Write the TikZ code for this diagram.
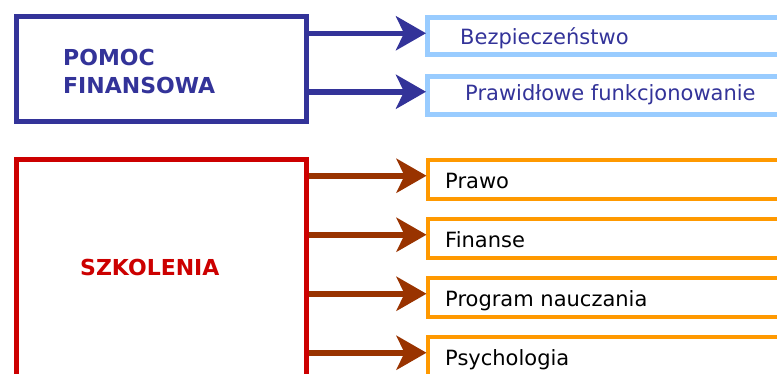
\documentclass[tikz,border=0pt]{standalone}
\usepackage{fontspec}
\setmainfont{DejaVu Sans}
\usetikzlibrary{arrows.meta,calc}
\definecolor{dblue}{HTML}{333399}
\definecolor{lblue}{HTML}{99CCFF}
\definecolor{dred}{HTML}{CC0000}
\definecolor{brown}{HTML}{993300}
\definecolor{orng}{HTML}{FF9900}
\tikzset{
  mainbox/.style={draw, line width=4.5pt, inner sep=0pt, anchor=north west},
  subbox/.style={draw, line width=4.5pt, inner sep=0pt, anchor=north west, minimum width=420pt},
  conn/.style={line width=5.5pt, -{Stealth[length=30pt,width=34pt,inset=8pt]}, shorten >=-1pt},
  lbl/.style={anchor=base west, inner sep=0pt, font=\fontsize{21}{25}\selectfont},
  title/.style={anchor=base west, inner sep=0pt, font=\fontsize{22}{28}\selectfont\bfseries, align=left},
}
\begin{document}
\begin{tikzpicture}[x=1pt,y=-1pt]
\useasboundingbox (0,0) rectangle (777,373);
\clip (0,0) rectangle (777,373);
% top group
\node[mainbox, draw=dblue, minimum width=290pt, minimum height=105pt] (pomoc) at (14,14) {};
\node[title, text=dblue] (pomoct) at (63,93) {POMOC\\FINANSOWA};
\node[subbox, draw=lblue, minimum height=37pt] (bez) at (425,15) {};
\node[subbox, draw=lblue, minimum height=38pt] (praw) at (425,74) {};
\node[lbl, text=dblue] (bezt) at (460,44) {Bezpieczeństwo};
\node[lbl, text=dblue] (prawt) at (465,100) {Prawidłowe funkcjonowanie};
\draw[conn, dblue] ($(pomoc.east |- bez.west)+(0,-2.5)$) -- ($(bez.west)+(0,-2.5)$);
\draw[conn, dblue] ($(pomoc.east |- praw.west)+(0,-3.5)$) -- ($(praw.west)+(0,-3.5)$);
% bottom group
\node[mainbox, draw=dred, minimum width=290pt, minimum height=260pt] (szk) at (14,157) {};
\node[title, text=dred] (szkt) at (80,275) {SZKOLENIA};
\node[subbox, draw=orng, minimum height=39pt] (b1) at (425.5,157.5) {};
\node[subbox, draw=orng, minimum height=39pt] (b2) at (425.5,216.5) {};
\node[subbox, draw=orng, minimum height=39pt] (b3) at (425.5,275.5) {};
\node[subbox, draw=orng, minimum height=39pt] (b4) at (425.5,334.5) {};
\node[lbl] (t1) at (445,188) {Prawo};
\node[lbl] (t2) at (445,247) {Finanse};
\node[lbl] (t3) at (445,306) {Program nauczania};
\node[lbl] (t4) at (445,365) {Psychologia};
\foreach \b in {b1,b2,b3,b4}
  \draw[conn, brown] ($(szk.east |- \b.west)+(0,-3.5)$) -- ($(\b.west)+(0,-3.5)$);
\end{tikzpicture}
\end{document}
